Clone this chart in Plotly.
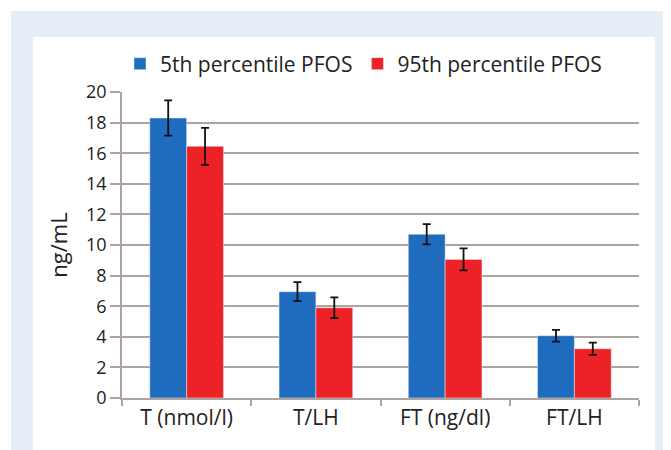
import plotly.graph_objects as go

categories = ["T (nmol/l)", "T/LH", "FT (ng/dl)", "FT/LH"]
p5_values = [18.3, 6.95, 10.7, 4.07]
p5_errors = [1.15, 0.62, 0.66, 0.38]
p95_values = [16.45, 5.9, 9.06, 3.22]
p95_errors = [1.21, 0.68, 0.72, 0.40]
series_names = ["5th percentile PFOS", "95th percentile PFOS"]
y_ticks = [0, 2, 4, 6, 8, 10, 12, 14, 16, 18, 20]

# page body has an 8px default margin; compensate so screen positions match
OFF = 8
W, H = 671, 450
L, T = 122 - OFF, 92 - OFF
R = W - (639 - OFF)
B = H - (398 - OFF)
pw, ph = W - L - R, H - T - B

def px_x(v):
    return (v - OFF - L) / pw

def px_y(v):
    return (H - B - (v - OFF)) / ph

FONT = "Open Sans"
blue = "#1f6cbf"
red = "#ec2227"
grid = "#ada3a1"

fig = go.Figure()
fig.add_trace(go.Bar(
    x=categories, y=p5_values, name=series_names[0], marker_color=blue,
    error_y=dict(type="data", array=p5_errors, color="#111", thickness=1.8, width=4),
))
fig.add_trace(go.Bar(
    x=categories, y=p95_values, name=series_names[1], marker_color=red,
    error_y=dict(type="data", array=p95_errors, color="#111", thickness=1.8, width=4),
))

shapes = [
    dict(type="rect", xref="paper", yref="paper", layer="below",
         x0=px_x(11), x1=px_x(W + 20), y0=px_y(11), y1=px_y(H + 20),
         fillcolor="#e7eef8", line_width=0),
    dict(type="rect", xref="paper", yref="paper", layer="below",
         x0=px_x(33), x1=px_x(655), y0=px_y(37), y1=px_y(H + 20),
         fillcolor="white", line_width=0),
]

fig.update_layout(
    width=W, height=H,
    margin=dict(l=L, r=R, t=T, b=B, pad=0, autoexpand=False),
    paper_bgcolor="white", plot_bgcolor="rgba(0,0,0,0)",
    barmode="group", bargap=0.43, bargroupgap=0,
    shapes=shapes,
    font=dict(family=FONT, color="#222", size=16),
    legend=dict(orientation="h", x=px_x(120), xanchor="left", y=px_y(64), yanchor="middle",
                font=dict(size=21, family=FONT, color="#222"),
                bgcolor="rgba(0,0,0,0)", itemwidth=30, traceorder="normal"),
    xaxis=dict(showline=True, linecolor=grid, linewidth=1.5, ticks="outside",
               tickson="boundaries", ticklen=6, tickcolor=grid, tickwidth=1.5,
               showgrid=False, automargin=False,
               tickfont=dict(size=21, family=FONT, color="#222")),
    yaxis=dict(range=[0, 20], tickvals=y_ticks, showline=True, linecolor=grid, linewidth=1.5,
               ticks="outside", ticklen=10, tickcolor=grid, tickwidth=1.5,
               showgrid=True, gridcolor=grid, gridwidth=1.5, zeroline=False, automargin=False,
               tickfont=dict(size=18, family=FONT, color="#222"),
               title=dict(text="ng/mL", font=dict(size=22, family=FONT, color="#222"), standoff=12)),
)

fig.write_html("out.html")
